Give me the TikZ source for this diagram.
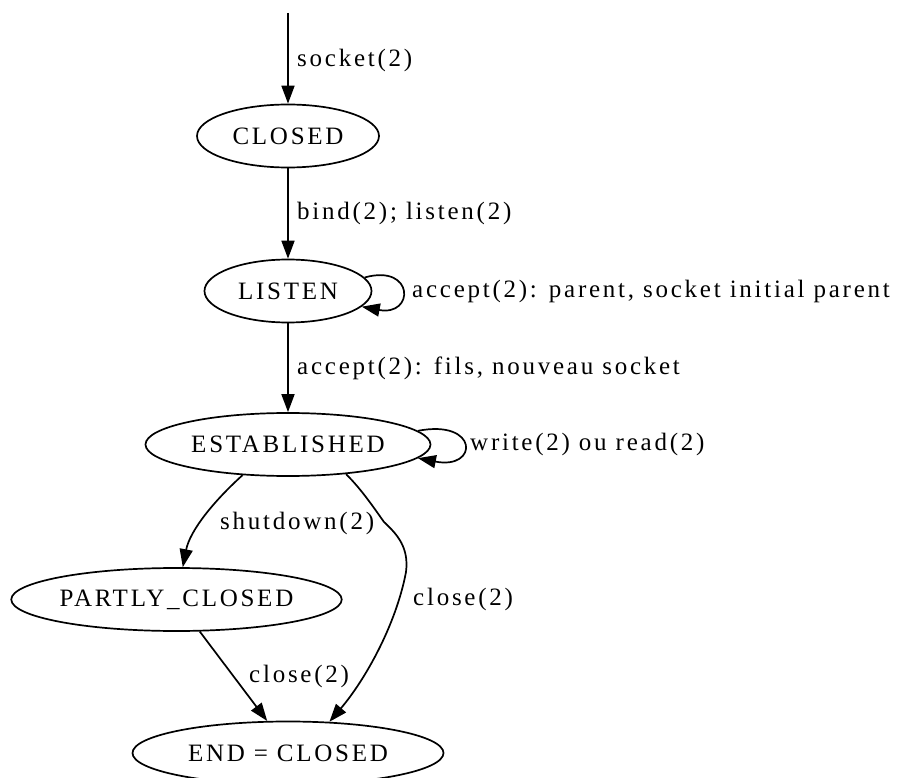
\documentclass[tikz,border=0pt]{standalone}
\usepackage{fontspec}
\setmainfont{Liberation Serif}[LetterSpace=11]
\usetikzlibrary{arrows.meta,shapes.geometric}

\begin{document}
\begin{tikzpicture}[x=1pt,y=-1pt,
  state/.style={draw, ellipse, line width=1.7pt, minimum height=63pt,
    inner sep=0pt, font=\fontsize{25}{30}\selectfont},
  lbl/.style={anchor=west, inner sep=0pt, font=\fontsize{25}{30}\selectfont},
  trans/.style={line width=1.7pt, -{Triangle[length=18pt,width=13pt]}},
]
\useasboundingbox (0,0) rectangle (900,778);

% states
\node[state, minimum width=182pt] (closed)      at (288,136)   {CLOSED};
\node[state, minimum width=167pt] (listen)      at (288,291)   {LISTEN};
\node[state, minimum width=285pt] (established) at (288,444.5) {ESTABLISHED};
\node[state, minimum width=323pt] (partly)      at (176.5,599.5) {PARTLY\_CLOSED};
\node[state, minimum width=311pt] (endc)        at (288,753)   {END = CLOSED};

% entry point
\coordinate (start) at (288,13);

% transitions
\draw[trans] (start) -- (closed);
\node[lbl] (lsocket) at (297,60) {socket(2)};

\draw[trans] (closed) -- (listen);
\node[lbl] (lbind) at (297,213) {bind(2); listen(2)};

\draw[trans] (listen.10) .. controls +(50,-14) and +(53,10) .. (listen.-12);
\node[lbl] (lparent) at (412,291) {accept(2): parent, socket initial parent};

\draw[trans] (listen) -- (established);
\node[lbl] (lfils) at (297,368) {accept(2): fils, nouveau socket};

\draw[trans] (established.6) .. controls +(61,-12) and +(61,12) .. (established.-6);
\node[lbl] (lrw) at (470,444) {write(2) ou read(2)};

\draw[trans] (established.-146) .. controls (215,500) and (190,530) .. (partly.79);
\node[lbl] (lshut) at (220,523) {shutdown(2)};

\draw[trans] (established.-27) .. controls (362,490) and (374,508) .. (384,522)
  .. controls (398,535) and (409,548) .. (406,572)
  .. controls (396,625) and (365,680) .. (endc.37);
\node[lbl] (lclose1) at (413,599) {close(2)};

\draw[trans] (partly.-54) -- (endc.123);
\node[lbl] (lclose2) at (249,676) {close(2)};
\end{tikzpicture}
\end{document}
